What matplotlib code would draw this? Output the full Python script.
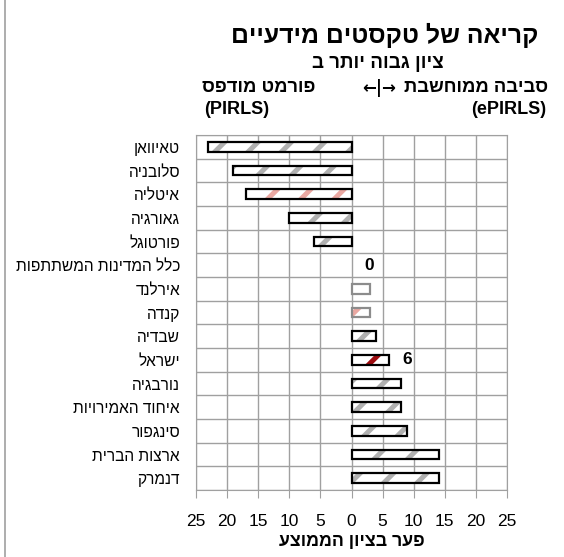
import numpy as np
import matplotlib
matplotlib.use("Agg")
from matplotlib import pyplot as plt
from matplotlib.lines import Line2D

plt.rcParams['font.family'] = ['Liberation Sans', 'DejaVu Sans']
plt.rcParams['hatch.linewidth'] = 3.6

countries = ['טאיוואן', 'סלובניה', 'איטליה', 'גאורגיה', 'פורטוגל',
             'כלל המדינות המשתתפות', 'אירלנד', 'קנדה', 'שבדיה', 'ישראל',
             'נורבגיה', 'איחוד האמירויות', 'סינגפור', 'ארצות הברית', 'דנמרק']
gap = [-23, -19, -17, -10, -6, 0, 3, 3, 4, 6, 8, 8, 9, 14, 14]
hatch_col = ['#b0b0b0', '#b0b0b0', '#eaa8a2', '#b0b0b0', '#b0b0b0',
             '#b0b0b0', '#b0b0b0', '#eaa8a2', '#b0b0b0', '#9e0b0f',
             '#b0b0b0', '#b0b0b0', '#b0b0b0', '#b0b0b0', '#b0b0b0']
edge_col = ['black', 'black', 'black', 'black', 'black',
            'none', '#8c8c8c', '#8c8c8c', 'black', 'black',
            'black', 'black', 'black', 'black', 'black']
xticks = [-25, -20, -15, -10, -5, 0, 5, 10, 15, 20, 25]


def vis(s):
    # matplotlib has no bidi support, so flip Hebrew to visual order
    return s[::-1]


fig = plt.figure(figsize=(5.64, 5.57), dpi=100)
ax = fig.add_axes([196/564, 1-490/557, (507-196)/564, (490-135)/557])

y = np.arange(len(countries))
ax.barh(y, gap, height=0.42, color='white', edgecolor=hatch_col,
        hatch='/', linewidth=0, zorder=3)
ax.barh(y, gap, height=0.42, color='none', edgecolor=edge_col,
        linewidth=1.6, zorder=4)

ax.set_xlim(-25, 25)
ax.set_ylim(len(countries) - 0.5, -0.5)
ax.set_xticks(xticks)
ax.set_xticklabels([str(abs(v)) for v in xticks], fontsize=12.5)
ax.set_yticks(y)
ax.set_yticklabels([vis(c) for c in countries], fontsize=11.2)
ax.set_yticks(np.arange(len(countries) + 1) - 0.5, minor=True)
ax.tick_params(axis='y', which='both', length=0, pad=11.5)
ax.tick_params(axis='x', length=6, color='#a0a0a0', pad=11)
ax.grid(True, axis='x', color='#a0a0a0', linewidth=1)
ax.grid(True, axis='y', which='minor', color='#a0a0a0', linewidth=1)
ax.grid(False, axis='y', which='major')
ax.set_axisbelow(True)
for sp in ax.spines.values():
    sp.set_color('#a0a0a0')

ax.text(2.9, 5, '0', fontsize=12.5, fontweight='bold', va='center', ha='center')
ax.text(8.9, 9, '6', fontsize=12.5, fontweight='bold', va='center', ha='center')

ax.set_xlabel(vis('פער בציון הממוצע'), fontsize=12.8, fontweight='bold', labelpad=3)

fig.text(385/564, 1-35/557, vis('קריאה של טקסטים מידעיים'), fontsize=17.8,
         fontweight='bold', ha='center', va='center')
fig.text(378/564, 1-63/557, vis('ציון גבוה יותר ב'), fontsize=13.5,
         fontweight='bold', ha='center', va='center')
fig.text(202/564, 1-88/557, vis('פורמט מודפס'), fontsize=13.2,
         fontweight='bold', ha='left', va='center')
fig.text(379/564, 1-88/557, '←|→', fontsize=12, family=['DejaVu Sans'],
         fontweight='bold', ha='center', va='center')
fig.text(548/564, 1-88/557, vis('סביבה ממוחשבת'), fontsize=13.2,
         fontweight='bold', ha='right', va='center')
fig.text(204/564, 1-109/557, '(PIRLS)', fontsize=13,
         fontweight='bold', ha='left', va='center')
fig.text(546/564, 1-109/557, '(ePIRLS)', fontsize=13,
         fontweight='bold', ha='right', va='center')

fig.add_artist(Line2D([5/564, 5/564], [0, 1], color='#a0a0a0', linewidth=1.2))

fig.savefig('out.png', dpi=100)
